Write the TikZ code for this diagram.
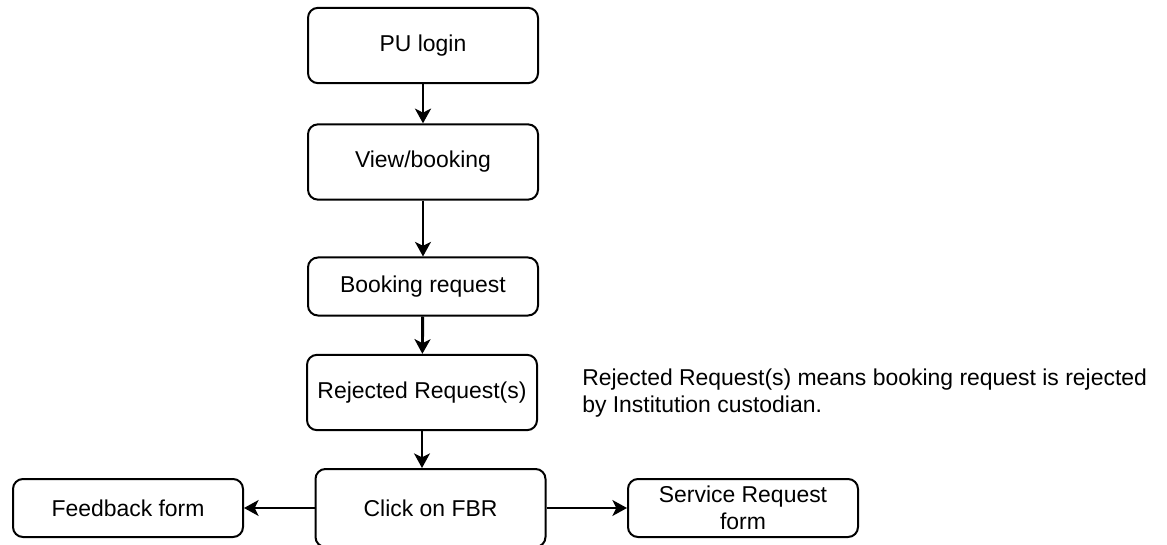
\documentclass[tikz,border=0pt]{standalone}
\usepackage{fontspec}
\setmainfont{Liberation Sans}
\usetikzlibrary{arrows.meta}

\begin{document}
\begin{tikzpicture}[
  x=0.75pt, y=-0.75pt,
  font=\fontsize{17.2pt}{20.25pt}\selectfont,
  box/.style={draw, rectangle, rounded corners=7.5pt, line width=1.5pt,
    minimum width=172.5pt, align=center, inner sep=2pt},
  tall/.style={box, minimum height=56.5pt},
  short/.style={box, minimum height=43.5pt},
  link/.style={line width=1.4pt, -{Stealth[length=11pt, width=12pt, inset=3pt]}},
  boldlink/.style={line width=2.2pt, -{Stealth[length=11pt, width=12pt, inset=3pt]}},
]
\useasboundingbox (0,0) rectangle (1167,545);

% main flow
\node[tall]  (login)   at (423, 45.5)  {PU login};
\node[tall]  (view)    at (423, 162)   {View/booking};
\node[short] (booking) at (423, 286.5) {Booking request};
\node[tall]  (reject)  at (422, 392.5) {Rejected Request(s)};
\node[box, minimum height=58.5pt] (click) at (430.5, 508) {Click on FBR};

% outcomes
\node[short] (feedback) at (128, 508) {Feedback form};
\node[short] (service)  at (743, 508) {Service Request\\form};

% note
\node[anchor=north west, align=left, inner sep=0pt] (note) at (582, 369)
  {Rejected Request(s) means booking request is rejected\\by Institution custodian.};

% connectors
\draw[boldlink] (login) -- (view);
\draw[link] (view) -- (booking);
\draw[boldlink] (booking) -- (reject);
\draw[link] (reject.south) -- (reject.south |- click.north);
\draw[link] (click) -- (feedback);
\draw[link] (click) -- (service);
\end{tikzpicture}
\end{document}
